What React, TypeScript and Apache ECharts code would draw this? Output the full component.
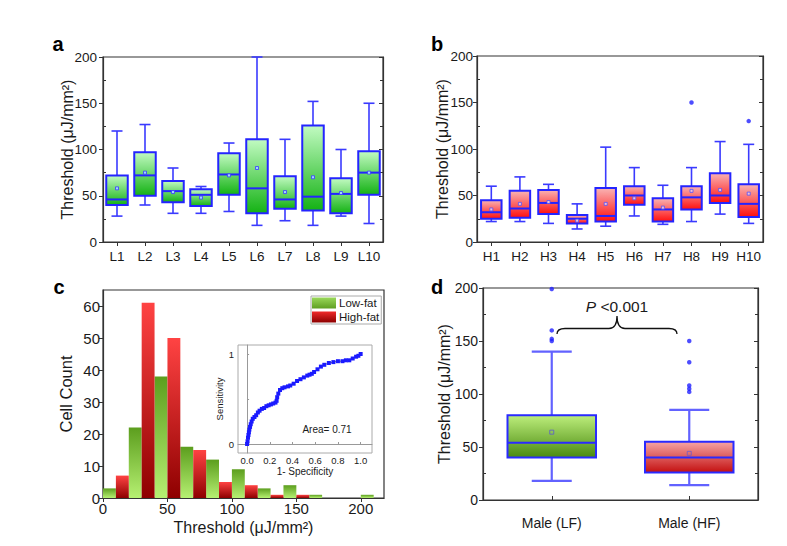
import React, { useEffect, useRef } from 'react';
import * as echarts from 'echarts';

const FONT = '"Liberation Sans", Arial, sans-serif';

// ---- Panel a: low-fat, per animal ----
const lfCategories = ['L1', 'L2', 'L3', 'L4', 'L5', 'L6', 'L7', 'L8', 'L9', 'L10'];
const lfMin = [28, 40, 31, 31, 33, 18, 23, 18, 28, 20];
const lfQ1 = [40, 50, 43, 39, 51, 31, 36, 34, 31, 51];
const lfMedian = [46, 72, 55, 51, 73, 58, 46, 49, 52, 75];
const lfQ3 = [72, 97, 66, 57, 96, 111, 71, 126, 69, 98];
const lfMax = [120, 127, 80, 60, 107, 200, 111, 152, 100, 150];
const lfMean = [58, 75, 54, 48, 72, 80, 54, 70, 53, 75];

// ---- Panel b: high-fat, per animal ----
const hfCategories = ['H1', 'H2', 'H3', 'H4', 'H5', 'H6', 'H7', 'H8', 'H9', 'H10'];
const hfMin = [22, 22, 20, 14, 17, 28, 19, 22, 30, 20];
const hfQ1 = [25, 26, 30, 20, 22, 40, 22, 35, 42, 27];
const hfMedian = [32, 36, 42, 25, 28, 50, 35, 48, 50, 41];
const hfQ3 = [45, 55, 56, 29, 58, 60, 47, 60, 74, 62];
const hfMax = [60, 70, 62, 41, 102, 80, 61, 80, 108, 105];
const hfMean = [35, 41, 43, 23, 41, 47, 37, 55, 56, 52];
const hfOutlierCategory = [7, 9];
const hfOutlierValue = [150, 130];

// ---- Panel c: histogram ----
const histBinWidth = 10;
const lowFatBinStart = [0, 20, 40, 60, 80, 100, 120, 140, 160, 200];
const lowFatCount = [3, 22, 38, 16, 12, 9, 3, 4, 1, 1];
const highFatBinStart = [10, 30, 50, 70, 90, 110, 130, 150];
const highFatCount = [7, 61, 50, 15, 5, 4, 1, 1];
const histXTicks = [0, 50, 100, 150, 200];
const histYTicks = [0, 10, 20, 30, 40, 50, 60];

// ---- Inset: ROC curve ----
const rocFpr = [0, 0.004, 0.008, 0.012, 0.016, 0.02, 0.026, 0.032, 0.04, 0.05, 0.065, 0.08, 0.095, 0.11, 0.13, 0.15, 0.17, 0.19, 0.21, 0.23, 0.25, 0.26, 0.265, 0.275, 0.29, 0.31, 0.33, 0.36, 0.38, 0.41, 0.44, 0.47, 0.5, 0.53, 0.55, 0.57, 0.59, 0.62, 0.65, 0.68, 0.72, 0.76, 0.8, 0.84, 0.87, 0.9, 0.93, 0.96, 0.98, 1.0];
const rocTpr = [0, 0.03, 0.07, 0.1, 0.13, 0.16, 0.19, 0.22, 0.25, 0.28, 0.3, 0.32, 0.35, 0.37, 0.39, 0.4, 0.42, 0.43, 0.44, 0.45, 0.46, 0.48, 0.52, 0.56, 0.6, 0.62, 0.63, 0.64, 0.65, 0.67, 0.7, 0.72, 0.74, 0.76, 0.77, 0.78, 0.8, 0.83, 0.86, 0.88, 0.9, 0.91, 0.92, 0.92, 0.93, 0.93, 0.95, 0.97, 0.98, 1.0];
const rocXTicks = [0, 0.2, 0.4, 0.6, 0.8, 1.0];
const rocYTicks = [0, 1];

// ---- Panel d: pooled ----
const sexCategories = ['Male (LF)', 'Male (HF)'];
const sexMin = [18, 14];
const sexQ1 = [40, 26];
const sexMedian = [54, 40];
const sexQ3 = [80, 55];
const sexMax = [140, 85];
const sexMean = [64, 44];
const sexOutlierCategory = [0, 0, 0, 0, 1, 1, 1, 1, 1];
const sexOutlierValue = [199, 160, 152, 150, 150, 130, 108, 105, 102];

const AXIS = '#333';
const TXT = '#1a1a1a';
const THRESH = 'Threshold (μJ/mm²)';

const grad = (top: string, bottom: string) =>
  new echarts.graphic.LinearGradient(0, 0, 0, 1, [
    { offset: 0, color: top },
    { offset: 1, color: bottom },
  ]);

function makeBoxRender(cfg: any) {
  return (params: any, api: any) => {
    const idx = api.value(0);
    const lo = api.coord([idx, api.value(1)]);
    const q1 = api.coord([idx, api.value(2)]);
    const med = api.coord([idx, api.value(3)]);
    const q3 = api.coord([idx, api.value(4)]);
    const hi = api.coord([idx, api.value(5)]);
    const mean = api.coord([idx, api.value(6)]);
    const cx = lo[0];
    const hw = cfg.boxWidth / 2;
    const cw = cfg.capWidth / 2;
    const ws = { stroke: cfg.whiskerColor, lineWidth: cfg.whiskerWidth };
    const ms = cfg.meanSize;
    return {
      type: 'group',
      children: [
        { type: 'line', shape: { x1: cx, y1: q3[1], x2: cx, y2: hi[1] }, style: ws },
        { type: 'line', shape: { x1: cx, y1: q1[1], x2: cx, y2: lo[1] }, style: ws },
        { type: 'line', shape: { x1: cx - cw, y1: hi[1], x2: cx + cw, y2: hi[1] }, style: ws },
        { type: 'line', shape: { x1: cx - cw, y1: lo[1], x2: cx + cw, y2: lo[1] }, style: ws },
        {
          type: 'rect',
          shape: { x: cx - hw, y: q3[1], width: 2 * hw, height: q1[1] - q3[1] },
          style: { fill: grad(cfg.top, cfg.bottom), stroke: cfg.boxStroke, lineWidth: cfg.boxLineWidth },
        },
        {
          type: 'line',
          shape: { x1: cx - hw, y1: med[1], x2: cx + hw, y2: med[1] },
          style: { stroke: cfg.boxStroke, lineWidth: cfg.medianWidth },
        },
        {
          type: 'rect',
          shape: { x: cx - ms / 2, y: mean[1] - ms / 2, width: ms, height: ms },
          style: { fill: cfg.meanFill, stroke: cfg.meanStroke, lineWidth: 0.8 },
        },
      ],
    };
  };
}

function histRender(top: string, bottom: string) {
  return (params: any, api: any) => {
    const start = api.value(0);
    const end = api.value(1);
    const count = api.value(2);
    const p0 = api.coord([start, count]);
    const p1 = api.coord([end, 0]);
    return {
      type: 'rect',
      shape: { x: p0[0], y: p0[1], width: p1[0] - p0[0], height: p1[1] - p0[1] },
      style: { fill: grad(top, bottom) },
    };
  };
}

const tickLabel = (size: number, margin: number) => ({
  fontFamily: FONT,
  fontSize: size,
  color: TXT,
  margin,
});

function leftAxes(grid: number, min: number, max: number, interval: number, name: string, nameGap: number, nameSize: number, labelSize: number, labelMargin: number) {
  return [
    {
      gridIndex: grid,
      type: 'value',
      position: 'left',
      min,
      max,
      interval,
      name,
      nameLocation: 'middle',
      nameGap,
      nameMoveOverlap: false,
      nameTextStyle: { fontFamily: FONT, fontSize: nameSize, color: TXT },
      axisLine: { show: true, lineStyle: { color: AXIS, width: 1.2 } },
      axisTick: { show: true, inside: false, length: 4, lineStyle: { color: AXIS } },
      axisLabel: tickLabel(labelSize, labelMargin),
      splitLine: { show: false },
    },
    {
      gridIndex: grid,
      type: 'value',
      position: 'left',
      min,
      max,
      interval,
      axisLine: { show: false },
      axisTick: { show: false, inside: true },
      minorTick: { show: true, splitNumber: 2, length: 3, lineStyle: { color: AXIS } },
      axisLabel: { show: false },
      splitLine: { show: false },
    },
  ];
}

function rightAxis(grid: number, min: number, max: number, interval: number) {
  return {
    gridIndex: grid,
    type: 'value',
    position: 'right',
    min,
    max,
    interval,
    axisLine: { show: true, lineStyle: { color: AXIS, width: 1.2 } },
    axisTick: { show: true, inside: true, length: 4, lineStyle: { color: AXIS } },
    minorTick: { show: true, splitNumber: 2, length: 3, lineStyle: { color: AXIS } },
    axisLabel: { show: false },
    splitLine: { show: false },
  };
}

function catAxes(grid: number, data: string[], labelSize: number, labelMargin: number, bottomInside: boolean, withTop: boolean) {
  const axes: any[] = [
    {
      gridIndex: grid,
      type: 'category',
      position: 'bottom',
      data,
      axisLine: { show: true, lineStyle: { color: AXIS, width: 1.2 } },
      axisTick: { show: true, alignWithLabel: true, inside: bottomInside, length: 4, interval: 0, lineStyle: { color: AXIS } },
      axisLabel: { ...tickLabel(labelSize, labelMargin), interval: 0, hideOverlap: false },
      splitLine: { show: false },
    },
  ];
  if (withTop) {
    axes.push({
      gridIndex: grid,
      type: 'category',
      position: 'top',
      data,
      axisLine: { show: true, lineStyle: { color: AXIS, width: 1.2 } },
      axisTick: { show: true, alignWithLabel: true, inside: true, length: 4, interval: 0, lineStyle: { color: AXIS } },
      axisLabel: { show: false, interval: 0 },
      splitLine: { show: false },
    });
  }
  return axes;
}

function panelLabel(text: string, x: number, y: number) {
  return {
    type: 'text',
    x,
    y,
    style: { text, fontFamily: FONT, fontSize: 20, fontWeight: 'bold', fill: '#000', align: 'center', verticalAlign: 'middle' },
  };
}

function buildOption() {
  const lfData = lfCategories.map((_, i) => [i, lfMin[i], lfQ1[i], lfMedian[i], lfQ3[i], lfMax[i], lfMean[i]]);
  const hfData = hfCategories.map((_, i) => [i, hfMin[i], hfQ1[i], hfMedian[i], hfQ3[i], hfMax[i], hfMean[i]]);
  const sexData = sexCategories.map((_, i) => [i, sexMin[i], sexQ1[i], sexMedian[i], sexQ3[i], sexMax[i], sexMean[i]]);
  const lowData = lowFatBinStart.map((s, i) => [s, s + histBinWidth, lowFatCount[i]]);
  const highData = highFatBinStart.map((s, i) => [s, s + histBinWidth, highFatCount[i]]);
  const rocData = rocFpr.map((x, i) => [x, rocTpr[i]]);

  const gridBase = { show: true, borderColor: AXIS, borderWidth: 1.2, backgroundColor: 'transparent', outerBoundsMode: 'none', containLabel: false };

  const xAxis: any[] = [
    ...catAxes(0, lfCategories, 13.5, 7, false, true), // 0,1
    ...catAxes(1, hfCategories, 13.5, 7, false, true), // 2,3
    {
      // 4: histogram x
      gridIndex: 2,
      type: 'value',
      position: 'bottom',
      min: 0,
      max: 218,
      name: THRESH,
      nameLocation: 'middle',
      nameGap: 21,
      nameMoveOverlap: false,
      nameTextStyle: { fontFamily: FONT, fontSize: 16, color: TXT },
      axisLine: { show: true, lineStyle: { color: AXIS, width: 1.2 } },
      axisTick: { show: true, inside: false, length: 4, customValues: histXTicks, lineStyle: { color: AXIS } },
      axisLabel: { ...tickLabel(15, 3), customValues: histXTicks },
      splitLine: { show: false },
    },
    {
      // 5: inset x
      gridIndex: 3,
      type: 'value',
      position: 'bottom',
      min: -0.08,
      max: 1.1,
      name: '1- Specificity',
      nameLocation: 'middle',
      nameGap: 13,
      nameMoveOverlap: false,
      nameTextStyle: { fontFamily: FONT, fontSize: 10, color: TXT },
      axisLine: { show: true, lineStyle: { color: '#999', width: 1 } },
      axisTick: { show: true, inside: true, length: 2, customValues: rocXTicks, lineStyle: { color: '#999' } },
      axisLabel: { fontFamily: FONT, fontSize: 9.5, color: TXT, margin: 2, customValues: rocXTicks, formatter: (v: number) => v.toFixed(1) },
      splitLine: { show: false },
    },
    ...catAxes(4, sexCategories, 14, 16, true, false), // 6
  ];

  const yAxis: any[] = [
    ...leftAxes(0, 0, 200, 50, THRESH, 28, 16, 13.5, 6), // 0,1
    rightAxis(0, 0, 200, 50), // 2
    ...leftAxes(1, 0, 200, 50, THRESH, 27, 16, 13.5, 4), // 3,4
    rightAxis(1, 0, 200, 50), // 5
    {
      // 6: histogram y
      gridIndex: 2,
      type: 'value',
      position: 'left',
      min: 0,
      max: 65,
      name: 'Cell Count',
      nameLocation: 'middle',
      nameGap: 29,
      nameMoveOverlap: false,
      nameTextStyle: { fontFamily: FONT, fontSize: 16.5, color: TXT },
      axisLine: { show: true, lineStyle: { color: AXIS, width: 1.2 } },
      axisTick: { show: true, inside: false, length: 4, customValues: histYTicks, lineStyle: { color: AXIS } },
      axisLabel: { ...tickLabel(15, 3), customValues: histYTicks },
      splitLine: { show: false },
    },
    {
      // 7: inset y
      gridIndex: 3,
      type: 'value',
      position: 'left',
      min: -0.1,
      max: 1.1,
      name: 'Sensitivity',
      nameLocation: 'middle',
      nameGap: 14,
      nameMoveOverlap: false,
      nameTextStyle: { fontFamily: FONT, fontSize: 9.5, color: TXT },
      axisLine: { show: true, lineStyle: { color: '#999', width: 1 } },
      axisTick: { show: true, inside: true, length: 2, customValues: [0, 0.5, 1], lineStyle: { color: '#999' } },
      axisLabel: { fontFamily: FONT, fontSize: 9.5, color: TXT, margin: 4, customValues: rocYTicks },
      splitLine: { show: false },
    },
    ...leftAxes(4, 0, 200, 50, THRESH, 31, 16, 14, 5), // 8,9
    rightAxis(4, 0, 200, 50), // 10
  ];

  const boxA = makeBoxRender({
    boxWidth: 21.5, capWidth: 11, whiskerColor: '#3a3aff', whiskerWidth: 1.6,
    top: '#c2fbc2', bottom: '#14b214', boxStroke: '#2424ff', boxLineWidth: 2, medianWidth: 2,
    meanSize: 3, meanFill: '#9fd8ff', meanStroke: '#3b3bff',
  });
  const boxB = makeBoxRender({
    boxWidth: 20.5, capWidth: 11, whiskerColor: '#3a3aff', whiskerWidth: 1.6,
    top: '#f9b4b4', bottom: '#ff0f0f', boxStroke: '#2424ff', boxLineWidth: 2, medianWidth: 2,
    meanSize: 3, meanFill: '#f7c0d0', meanStroke: '#5050ff',
  });
  const boxLF = makeBoxRender({
    boxWidth: 88.5, capWidth: 40, whiskerColor: '#6262ff', whiskerWidth: 2.2,
    top: '#bdee7c', bottom: '#4a8a10', boxStroke: '#2a2aff', boxLineWidth: 2, medianWidth: 2,
    meanSize: 4, meanFill: 'none', meanStroke: '#5a5ad0',
  });
  const boxHF = makeBoxRender({
    boxWidth: 88.5, capWidth: 40, whiskerColor: '#6262ff', whiskerWidth: 2.2,
    top: '#f6a6a6', bottom: '#c41010', boxStroke: '#2a2aff', boxLineWidth: 2, medianWidth: 2,
    meanSize: 4, meanFill: 'none', meanStroke: '#6a5ad0',
  });

  const boxEncode = { x: 0, y: [1, 2, 3, 4, 5] };

  return {
    animation: false,
    backgroundColor: '#fff',
    textStyle: { fontFamily: FONT },
    grid: [
      { ...gridBase, left: 103, top: 57, width: 280, height: 185 },
      { ...gridBase, left: 477, top: 56, width: 286, height: 186 },
      { ...gridBase, left: 103, top: 290, width: 281, height: 208 },
      { ...gridBase, left: 238, top: 345, width: 134, height: 108, borderColor: '#aaa', borderWidth: 1, backgroundColor: '#fff' },
      { ...gridBase, left: 483, top: 288, width: 275, height: 212 },
    ],
    xAxis,
    yAxis,
    legend: {
      show: true,
      orient: 'vertical',
      left: 311,
      top: 296,
      itemWidth: 24,
      itemHeight: 11,
      itemGap: 2,
      padding: [1, 2, 1, 1],
      borderColor: '#aaa',
      borderWidth: 1,
      icon: 'rect',
      textStyle: { fontFamily: FONT, fontSize: 11.5, color: TXT, padding: [0, 0, 0, -2] },
      data: ['Low-fat', 'High-fat'],
      selectedMode: false,
    },
    series: [
      {
        name: 'Low-fat per animal',
        type: 'custom',
        xAxisIndex: 0,
        yAxisIndex: 0,
        encode: boxEncode,
        renderItem: boxA,
        data: lfData,
        z: 3,
      },
      {
        name: 'High-fat per animal',
        type: 'custom',
        xAxisIndex: 2,
        yAxisIndex: 3,
        encode: boxEncode,
        renderItem: boxB,
        data: hfData,
        z: 3,
      },
      {
        name: 'High-fat outliers',
        type: 'scatter',
        xAxisIndex: 2,
        yAxisIndex: 3,
        symbol: 'circle',
        symbolSize: 4.5,
        itemStyle: { color: '#2020ff' },
        data: hfOutlierCategory.map((c, i) => [c, hfOutlierValue[i]]),
        z: 4,
      },
      {
        name: 'Low-fat',
        type: 'custom',
        xAxisIndex: 4,
        yAxisIndex: 6,
        encode: { x: [0, 1], y: 2 },
        itemStyle: { color: grad('#9ad85a', '#5f9f22') },
        renderItem: histRender('#5c9e1e', '#b6f072'),
        data: lowData,
        z: 2,
      },
      {
        name: 'High-fat',
        type: 'custom',
        xAxisIndex: 4,
        yAxisIndex: 6,
        encode: { x: [0, 1], y: 2 },
        itemStyle: { color: grad('#f02a2a', '#8c0000') },
        renderItem: histRender('#ff4343', '#8e0000'),
        data: highData,
        z: 2,
      },
      {
        name: 'ROC',
        type: 'line',
        xAxisIndex: 5,
        yAxisIndex: 7,
        symbol: 'rect',
        symbolSize: 4,
        showSymbol: true,
        itemStyle: { color: '#1a1aff' },
        lineStyle: { color: '#555', width: 0.8 },
        data: rocData,
        z: 5,
      },
      {
        name: 'Male pooled',
        type: 'custom',
        xAxisIndex: 6,
        yAxisIndex: 8,
        encode: boxEncode,
        renderItem: (p: any, api: any) => (api.value(0) === 0 ? boxLF(p, api) : boxHF(p, api)),
        data: sexData,
        z: 3,
      },
      {
        name: 'Pooled outliers',
        type: 'scatter',
        xAxisIndex: 6,
        yAxisIndex: 8,
        symbol: 'circle',
        symbolSize: 4.5,
        itemStyle: { color: '#2020ff' },
        data: sexOutlierCategory.map((c, i) => [c, sexOutlierValue[i]]),
        z: 4,
      },
    ],
    graphic: [
      panelLabel('a', 58, 44),
      panelLabel('b', 437, 44),
      panelLabel('c', 59, 287),
      panelLabel('d', 437, 287),
      { type: 'text', x: 327, y: 429, z: 10, style: { text: 'Area= 0.71', fontFamily: FONT, fontSize: 10, fill: TXT, align: 'center', verticalAlign: 'middle' } },
      {
        type: 'text', x: 617, y: 306, z: 10,
        style: {
          text: '{i|P} <0.001',
          rich: { i: { fontStyle: 'italic', fontFamily: FONT, fontSize: 15.5, fill: TXT } },
          fontFamily: FONT, fontSize: 15.5, fill: TXT, align: 'center', verticalAlign: 'middle',
        },
      },
      { type: 'brace', x: 557, y: 316, z: 10, style: { stroke: '#111', fill: 'none', lineWidth: 1.3 } },
    ],
  };
}

let braceRegistered = false;

export default function App() {
  const ref = useRef<HTMLDivElement>(null);
  useEffect(() => {
    if (!braceRegistered) {
      echarts.graphic.registerShape(
        'brace',
        echarts.graphic.extendPath(
          'M0,18 C0,14 3,12.5 8,12.5 L52,12.5 C57,12.5 60,9 60,0 C60,9 63,12.5 68,12.5 L112,12.5 C117,12.5 120,14 120,18',
          {}
        ) as any
      );
      braceRegistered = true;
    }
    const chart = echarts.init(ref.current!, null, { renderer: 'svg' });
    chart.setOption(buildOption() as any);
    return () => chart.dispose();
  }, []);
  return <div ref={ref} style={{ position: 'fixed', left: 0, top: 0, width: 787, height: 546 }} />;
}
